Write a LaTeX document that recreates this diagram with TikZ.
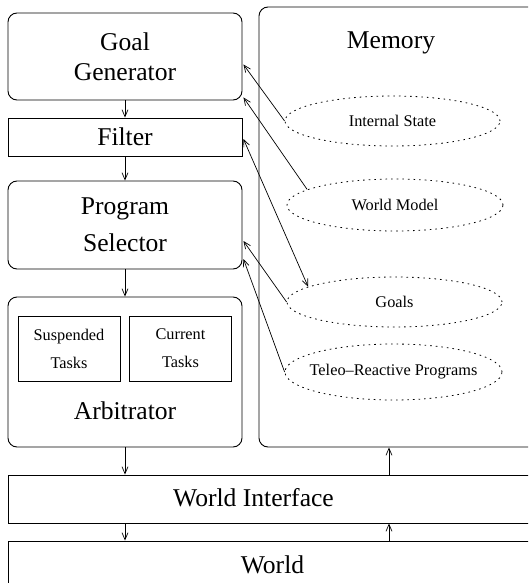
\documentclass[tikz,border=0pt]{standalone}
\usepackage{fontspec}
\setmainfont{Liberation Serif}
\usetikzlibrary{shapes.geometric,arrows.meta,calc}

\newcommand{\bigfont}{\fontsize{25.6}{30}\selectfont}
\newcommand{\smallfont}{\fontsize{16.3}{28}\selectfont}

\tikzset{
  >={Straight Barb[length=7pt,width=6pt]},
  box/.style={draw, line width=0.9pt, minimum width=234pt, inner sep=0pt, align=center, font=\bigfont},
  rbox/.style={box, rounded corners=9pt},
  task/.style={draw, line width=0.9pt, minimum width=102pt, minimum height=65pt, inner sep=0pt, align=center, font=\smallfont},
  store/.style={draw, ellipse, dash pattern=on 1.6pt off 4pt, line width=0.8pt, inner sep=0pt, font=\smallfont},
  flow/.style={->, line width=0.7pt},
}

\begin{document}
\begin{tikzpicture}[x=1pt,y=-1pt]
    \useasboundingbox (0,0) rectangle (528,583);
    \clip (0,0) rectangle (528,583);

    % Left column
    \node[rbox, minimum height=87pt] (gen) at (125,56.5) {Goal\\Generator};
    \node[box, minimum height=38pt] (filt) at (125,137) {Filter};
    \node[rbox, minimum height=88pt] (sel) at (125,225) {Program\\[7pt]Selector};
    \node[rbox, minimum height=150pt] (arb) at (125,372) {};
    \node[font=\bigfont] (arbtxt) at (125,411) {Arbitrator};
    \node[task] (susp) at (69,348.5) {Suspended\\Tasks};
    \node[task] (cur) at (180.5,348.5) {Current\\Tasks};

    % Memory
    \node[rbox, minimum width=281pt, minimum height=440pt] (mem) at (399.5,227) {};
    \node[font=\bigfont] (memtxt) at (391,43) {Memory};
    \node[store, minimum width=215pt, minimum height=50pt] (istate) at (392.5,121) {Internal State};
    \node[store, minimum width=216pt, minimum height=52pt] (wmodel) at (395,205) {World Model};
    \node[store, minimum width=215pt, minimum height=50pt] (goals) at (394.5,302) {Goals};
    \node[store, inner xsep=-10pt, minimum width=217pt, minimum height=56pt] (trp) at (393.5,372) {Teleo--Reactive Programs};

    % World
    \node[box, minimum width=540pt, minimum height=48pt] (wint) at (278,499) {};
    \node[font=\bigfont] (winttxt) at (253.5,498) {World Interface};
    \node[box, minimum width=540pt, minimum height=60pt] (world) at (278,571) {};
    \node[font=\bigfont] (worldtxt) at (272.5,565) {World};

    % Control flow
    \draw[flow] (gen) -- (filt);
    \draw[flow] (filt) -- (sel);
    \draw[flow] (sel) -- (arb);
    \draw[flow] (arb.south) -- (arb.south |- wint.north);
    \draw[flow] (arb.south |- wint.south) -- (arb.south |- world.north);
    \coordinate (up) at (389,0);
    \draw[flow] (up |- world.north) -- (up |- wint.south);
    \draw[flow] (up |- wint.north) -- (up |- mem.south);

    % Memory links
    \draw[flow] (istate.west) -- ($(gen.east)+(1,8)$);
    \draw[flow] (wmodel.170) -- ($(gen.south east)+(1,-3)$);
    \draw[<->, line width=0.7pt] ($(filt.east)+(1,2)$) -- (goals.170);
    \draw[flow] (goals.west) -- ($(sel.east)+(1,16)$);
    \draw[flow] (trp.west) -- ($(sel.east)+(1,34)$);
\end{tikzpicture}
\end{document}
